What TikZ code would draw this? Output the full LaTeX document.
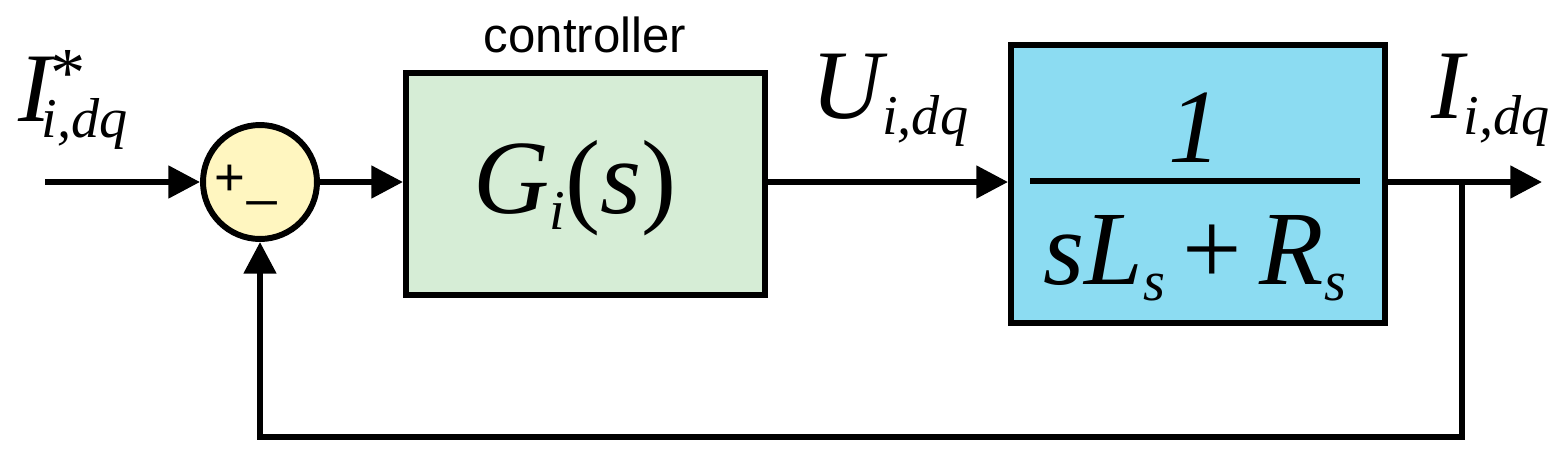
\documentclass[tikz,border=0pt]{standalone}
\usepackage{fontspec}
\setmainfont{Liberation Sans}
\newfontfamily\ser{Liberation Serif}
\usetikzlibrary{arrows.meta}
\definecolor{sumc}{RGB}{255,246,192}
\definecolor{ctrlc}{RGB}{214,237,214}
\definecolor{plantc}{RGB}{140,220,242}
\newcommand{\sbx}[1]{\raisebox{-9pt}{\fontsize{32}{34}\selectfont #1}}
\begin{document}
\begin{tikzpicture}[x=0.02cm,y=-0.02cm,
  wire/.style={line width=3.4pt,-{Triangle[length=18pt,width=18pt]}},
  blk/.style={draw,line width=3.4pt,anchor=north west,inner sep=0pt},
  big/.style={font=\ser\itshape\fontsize{60}{64}\selectfont},
  lab/.style={font=\ser\itshape\fontsize{56}{60}\selectfont}]
\useasboundingbox (0,0) rectangle (1562,457);
\node[circle,draw,line width=3.4pt,fill=sumc,minimum size=2.28cm,inner sep=0pt] (sum) at (260,182) {};
\node[font=\fontsize{30}{32}\selectfont] (plus) at (230,180) {+};
\node[font=\fontsize{30}{32}\selectfont] (minus) at (262,200) {\_};
\node[blk,fill=ctrlc,minimum width=7.18cm,minimum height=4.44cm] (ctrl) at (403,70) {};
\node[big] (G) at (575,188) {G\sbx{i}\upshape(\itshape s\upshape)};
\node[font=\fontsize{28}{30}\selectfont] (ctl) at (585,35) {controller};
\node[blk,fill=plantc,minimum width=7.48cm,minimum height=5.56cm] (plant) at (1008,42) {};
\node[big] (num) at (1195,128) {1};
\draw[line width=3.4pt] (1030,181) -- (1360,181);
\node[big] (den) at (1195,258) {sL\sbx{s}\upshape{\,+\,}\itshape R\sbx{s}};
\coordinate (in) at (45,182);
\coordinate (out) at (1542,182);
\coordinate (br) at (1462,182);
\coordinate (c1) at (1462,437);
\coordinate (c2) at (260,437);
\draw[wire] (in) -- (sum.west);
\draw[wire] (sum.east) -- (sum.east -| ctrl.west);
\draw[wire] (ctrl.east |- sum.east) -- (sum.east -| plant.west);
\draw[wire] (plant.east |- sum.east) -- (out);
\draw[wire] (br) -- (c1) -- (c2) -- (sum.south);
\node[lab,anchor=west] (lin) at (12,100) {I\raisebox{14pt}{\upshape\fontsize{40}{40}\selectfont *}\hspace{-0.45em}\sbx{i,dq}};
\node[lab,anchor=west] (lu) at (805,100) {U\sbx{i,dq}};
\node[lab,anchor=west] (lo) at (1425,100) {I\sbx{i,dq}};
\end{tikzpicture}
\end{document}
